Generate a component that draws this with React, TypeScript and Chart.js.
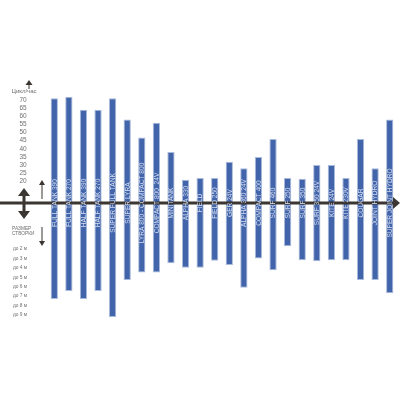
import React, { useEffect, useRef } from "react";
import { Chart, registerables } from "chart.js";

Chart.register(...registerables);

const categories = [
  "FULL TANK 390", "FULL TANK 270", "HALF TANK 390", "HALF TANK 270", "SUPER FULL TANK",
  "SUPER LYRA", "LYRA 800 - COMPACT 800", "COMPACT 800  24V", "MINITANK", "ALPHA 330",
  "FIELD", "FIELD 250", "GER 24V", "ALPHA 360 24V", "COMPACT 400", "SURF 460", "SURF 250",
  "SURF 350", "SURF 350 24V", "KITE 24V", "KITE 230V", "COUGAR", "JOINT HYDRO", "SUPER JOINT HYDRO",
];
const cyclesPerHour = [71, 72, 64, 64, 71, 58, 47, 56, 38, 21, 22, 22, 32, 28, 35, 46, 22, 21.5, 30, 30, 22, 46, 28, 58];
const doorSize = [7.3, 6.45, 7.3, 6.45, 9.2, 5.3, 4.5, 4.5, 3.5, 4.0, 4.0, 3.25, 3.7, 6.1, 3.0, 4.25, 1.7, 3.2, 3.3, 3.2, 3.2, 5.3, 5.3, 6.7];
const cycleTicks = [70, 65, 60, 55, 50, 45, 40, 35, 30, 25, 20];
const doorTicks = [2, 3, 4, 5, 6, 7, 8, 9];
const cycleTitle = "Цикл/час";
const doorTitle = ["РАЗМЕР", "СТВОРКИ"];

// axis units: 0 at the central line, upper part = cycles, lower part = door size
const topVal = (c: number) => 103 - (70 - c) * 1.626;
const botVal = (d: number) => -46 - (d - 2) * 9.43;

export default function App() {
  const ref = useRef<HTMLCanvasElement | null>(null);
  useEffect(() => {
    document.body.style.margin = "0";
    const ctx = ref.current!.getContext("2d")!;
    const dark = "#3b3631";
    const deco = {
      id: "deco",
      afterDatasetsDraw(chart: any) {
        const c = chart.ctx;
        const ys = chart.scales.y;
        const y0 = ys.getPixelForValue(0);
        c.save();
        c.strokeStyle = dark;
        c.fillStyle = dark;
        c.lineWidth = 3;
        c.beginPath();
        c.moveTo(0, y0);
        c.lineTo(394, y0);
        c.stroke();
        c.beginPath();
        c.moveTo(400, y0);
        c.lineTo(393, y0 - 6);
        c.lineTo(393, y0 + 6);
        c.closePath();
        c.fill();
        // big double arrow
        c.lineWidth = 3;
        c.beginPath();
        c.moveTo(24, y0 - 9);
        c.lineTo(24, y0 + 10);
        c.stroke();
        c.beginPath();
        c.moveTo(24, y0 - 15);
        c.lineTo(18, y0 - 7);
        c.lineTo(30, y0 - 7);
        c.closePath();
        c.fill();
        c.beginPath();
        c.moveTo(24, y0 + 16);
        c.lineTo(18, y0 + 8);
        c.lineTo(30, y0 + 8);
        c.closePath();
        c.fill();
        // thin arrows
        c.lineWidth = 1;
        c.beginPath();
        c.moveTo(42, y0 - 4);
        c.lineTo(42, y0 - 20);
        c.stroke();
        c.beginPath();
        c.moveTo(42, y0 - 23);
        c.lineTo(39, y0 - 18);
        c.lineTo(45, y0 - 18);
        c.closePath();
        c.fill();
        c.beginPath();
        c.moveTo(42, y0 + 24);
        c.lineTo(42, y0 + 40);
        c.stroke();
        c.beginPath();
        c.moveTo(42, y0 + 43);
        c.lineTo(39, y0 + 38);
        c.lineTo(45, y0 + 38);
        c.closePath();
        c.fill();
        // top small arrow
        const yt = ys.getPixelForValue(topVal(70)) - 15;
        c.beginPath();
        c.moveTo(29, yt - 5);
        c.lineTo(25.5, yt);
        c.lineTo(32.5, yt);
        c.closePath();
        c.fill();
        c.beginPath();
        c.moveTo(29, yt);
        c.lineTo(29, yt + 4);
        c.stroke();
        // left texts
        c.fillStyle = "#707070";
        c.font = "6px 'Liberation Sans', Arial, sans-serif";
        c.textAlign = "center";
        c.textBaseline = "middle";
        c.fillText(cycleTitle, 24, ys.getPixelForValue(topVal(70)) - 8.5);
        c.font = "6.5px 'Liberation Sans', Arial, sans-serif";
        cycleTicks.forEach((t) => c.fillText(String(t), 23, ys.getPixelForValue(topVal(t))));
        c.textAlign = "left";
        c.font = "4.8px 'Liberation Sans', Arial, sans-serif";
        c.fillText(doorTitle[0], 12, y0 + 26);
        c.fillText(doorTitle[1], 12, y0 + 31);
        c.font = "4.8px 'Liberation Sans', Arial, sans-serif";
        doorTicks.forEach((d) => c.fillText("до " + d + " м", 13, ys.getPixelForValue(botVal(d))));
        // bar labels
        const meta = chart.getDatasetMeta(0);
        c.fillStyle = "#d6def0";
        c.font = "6.6px 'Liberation Sans', Arial, sans-serif";
        c.textAlign = "center";
        c.textBaseline = "middle";
        meta.data.forEach((el: any, i: number) => {
          c.save();
          c.translate(el.x + 0.5, y0);
          c.rotate(-Math.PI / 2);
          c.fillText(categories[i], 0, 0);
          c.restore();
        });
        c.restore();
      },
    };
    const chart = new Chart(ctx, {
      type: "bar",
      data: {
        labels: categories,
        datasets: [
          {
            data: categories.map((_, i) => [botVal(doorSize[i]), topVal(cyclesPerHour[i])]) as any,
            backgroundColor: "#4264aa",
            borderColor: "#a9bbdc",
            borderWidth: 1,
            borderSkipped: false,
            barPercentage: 0.5,
            categoryPercentage: 1,
          },
        ],
      },
      options: {
        animation: false,
        responsive: true,
        maintainAspectRatio: false,
        layout: { padding: { left: 47, right: 3, top: 0, bottom: 0 } },
        plugins: { legend: { display: false }, tooltip: { enabled: false } },
        scales: {
          x: { display: false },
          y: { display: false, min: -197, max: 203 },
        },
      },
      plugins: [deco],
    });
    return () => chart.destroy();
  }, []);
  return (
    <div style={{ width: 400, height: 400, background: "#fff" }}>
      <canvas ref={ref} />
    </div>
  );
}
